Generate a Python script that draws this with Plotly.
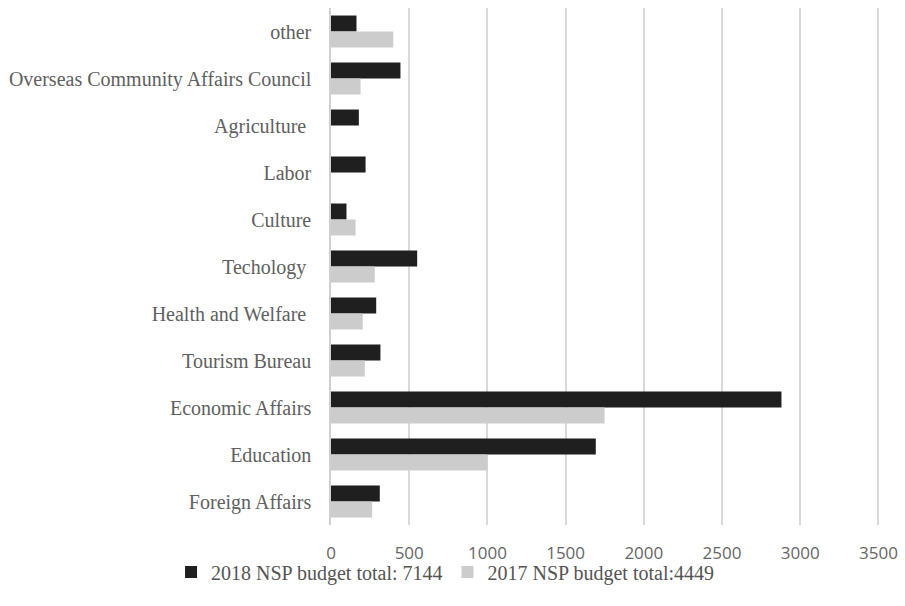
import plotly.graph_objects as go

categories = ["other", "Overseas Community Affairs Council", "Agriculture ", "Labor",
              "Culture", "Techology ", "Health and Welfare ", "Tourism Bureau",
              "Economic Affairs", "Education", "Foreign Affairs"]
budget_2018 = [163, 444, 178, 221, 99, 551, 289, 316, 2880, 1693, 312]
budget_2017 = [398, 189, 0, 0, 157, 280, 203, 216, 1749, 1000, 263]
series_names = ["2018 NSP budget total: 7144", "2017 NSP budget total:4449"]
x_ticks = [0, 500, 1000, 1500, 2000, 2500, 3000, 3500]

serif = "Liberation Serif, Times New Roman, serif"
sans = "Open Sans, Liberation Sans, sans-serif"

fig = go.Figure()
fig.add_trace(go.Bar(y=categories, x=budget_2018, orientation="h", name=series_names[0],
                     marker=dict(color="#1f1f1f", line=dict(width=0))))
fig.add_trace(go.Bar(y=categories, x=budget_2017, orientation="h", name=series_names[1],
                     marker=dict(color="#cccccc", line=dict(width=0))))

fig.update_layout(
    width=905, height=606,
    margin=dict(l=331, r=25, t=8, b=81, autoexpand=False),
    plot_bgcolor="white", paper_bgcolor="white",
    barmode="group", bargap=0.32, bargroupgap=0,
    showlegend=True,
    legend=dict(orientation="h", xref="container", yref="container",
                x=0.189, xanchor="left", y=0.056, yanchor="middle",
                bgcolor="rgba(0,0,0,0)",
                font=dict(family=serif, size=20, color="#555555"),
                itemwidth=30, traceorder="normal"),
    xaxis=dict(range=[0, 3510], tickvals=x_ticks, showgrid=True, gridcolor="#d9d9d9",
               gridwidth=1.5, zeroline=False, showline=False,
               tickfont=dict(family=sans, size=17, color="#666666"),
               ticklabelstandoff=16),
    yaxis=dict(autorange="reversed", showline=True, linecolor="#d0d0d0", linewidth=1.5,
               showgrid=False, tickfont=dict(family=serif, size=20, color="#606060"),
               ticklabelstandoff=14),
)

fig.write_html("out.html")
